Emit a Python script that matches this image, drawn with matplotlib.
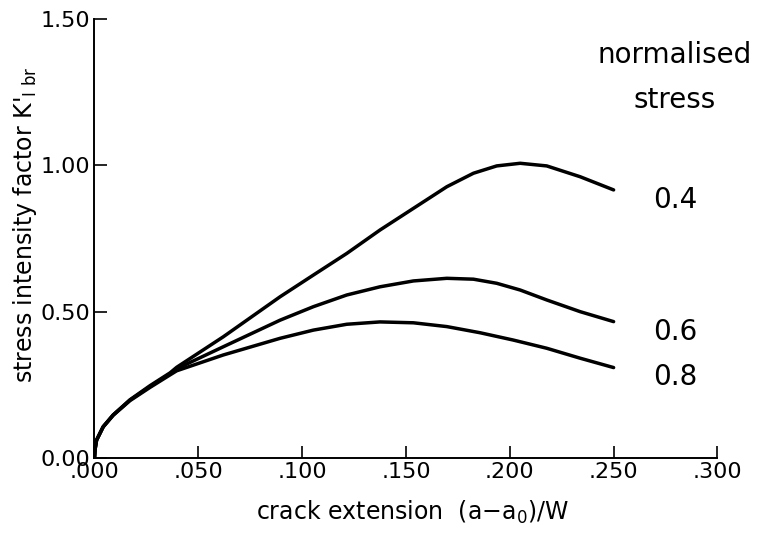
import matplotlib
matplotlib.use("Agg")
import matplotlib.pyplot as plt

# crack extension (a-a0)/W and K'_I br
x_04 = [0.0, 0.0003, 0.001, 0.0042, 0.009, 0.0171, 0.0267, 0.0364, 0.0396, 0.062,
        0.0894, 0.1054, 0.1215, 0.1375, 0.1536, 0.1697, 0.1825, 0.1937, 0.205,
        0.2178, 0.2339, 0.250]
k_04 = [0.0, 0.03, 0.061, 0.107, 0.147, 0.199, 0.247, 0.291, 0.310, 0.414,
        0.551, 0.625, 0.699, 0.779, 0.853, 0.927, 0.973, 0.998, 1.007,
        0.998, 0.961, 0.916]

x_06 = [0.0, 0.0003, 0.001, 0.0042, 0.009, 0.0171, 0.0267, 0.0364, 0.0396, 0.062,
        0.0894, 0.1054, 0.1215, 0.1375, 0.1536, 0.1697, 0.1825, 0.1937, 0.205,
        0.2178, 0.2339, 0.250]
k_06 = [0.0, 0.03, 0.061, 0.107, 0.147, 0.198, 0.244, 0.288, 0.305, 0.380,
        0.471, 0.517, 0.557, 0.585, 0.605, 0.614, 0.611, 0.597, 0.574,
        0.540, 0.500, 0.466]

x_08 = [0.0, 0.0003, 0.001, 0.0042, 0.009, 0.0171, 0.0267, 0.0364, 0.0396, 0.062,
        0.0894, 0.1054, 0.1215, 0.1375, 0.1536, 0.1697, 0.1857, 0.2017, 0.2178,
        0.2339, 0.250]
k_08 = [0.0, 0.03, 0.061, 0.106, 0.146, 0.196, 0.241, 0.284, 0.298, 0.352,
        0.409, 0.437, 0.457, 0.465, 0.462, 0.449, 0.428, 0.403, 0.375,
        0.341, 0.309]

curve_labels = ["0.4", "0.6", "0.8"]
curve_label_y = [0.881, 0.431, 0.278]
x_ticks = [0.0, 0.05, 0.10, 0.15, 0.20, 0.25, 0.30]
x_tick_labels = [".000", ".050", ".100", ".150", ".200", ".250", ".300"]
y_ticks = [0.0, 0.5, 1.0, 1.5]
y_tick_labels = ["0.00", "0.50", "1.00", "1.50"]

plt.rcParams["font.family"] = ["DejaVu Sans"]

fig = plt.figure(figsize=(7.6, 5.35), dpi=100)
ax = fig.add_axes([0.1243, 0.1439, 0.8197, 0.8206])

for xs, ks in [(x_04, k_04), (x_06, k_06), (x_08, k_08)]:
    ax.plot(xs, ks, color="black", linewidth=2.5, solid_capstyle="round",
            solid_joinstyle="round")

ax.set_xlim(0, 0.30)
ax.set_ylim(0, 1.50)
ax.set_xticks(x_ticks)
ax.set_xticklabels(x_tick_labels)
ax.set_yticks(y_ticks)
ax.set_yticklabels(y_tick_labels)

for side in ["top", "right"]:
    ax.spines[side].set_visible(False)
for side in ["left", "bottom"]:
    ax.spines[side].set_linewidth(1.4)

ax.tick_params(axis="both", direction="in", length=9, width=1.2,
               labelsize=16, colors="black")
ax.tick_params(axis="x", pad=3)
ax.tick_params(axis="y", pad=3)

ax.set_xlabel(r"crack extension  (a$-$a$_0$)/W", fontsize=17)
ax.xaxis.set_label_coords(0.51, -0.094)
ax.set_ylabel(r"stress intensity factor K$'_{\mathrm{I\ br}}$", fontsize=17,
              va="center")
ax.yaxis.set_label_coords(-0.112, 0.53)

# curve labels on the right
for txt, yv in zip(curve_labels, curve_label_y):
    ax.text(0.2796, yv, txt, fontsize=20, ha="center", va="center",
            clip_on=False)
ax.text(0.2796, 1.377, "normalised", fontsize=20, ha="center", va="center",
        clip_on=False)
ax.text(0.2796, 1.223, "stress", fontsize=20, ha="center", va="center",
        clip_on=False)

fig.savefig("out.png", dpi=100)
